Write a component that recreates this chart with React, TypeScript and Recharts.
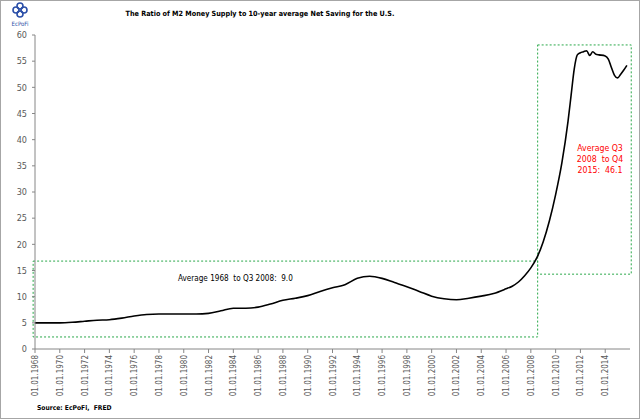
import { LineChart, Line, XAxis, YAxis, ReferenceArea } from "recharts";

const years = [
  1968, 1969, 1970, 1971, 1972, 1973, 1974, 1975, 1976, 1977, 1978, 1979,
  1980, 1981, 1982, 1983, 1984, 1985, 1986, 1987, 1988, 1989, 1990, 1991,
  1992, 1993, 1994, 1995, 1996, 1997, 1998, 1999, 2000, 2001, 2002, 2003,
  2004, 2005, 2006, 2006.5, 2007, 2007.5, 2008, 2008.5, 2009, 2009.5, 2010,
  2010.5, 2011, 2011.25, 2011.5, 2011.75, 2012, 2012.25, 2012.5, 2012.75,
  2013, 2013.25, 2013.5, 2014, 2014.25, 2014.5, 2014.75, 2015, 2015.25,
  2015.5, 2015.75,
];

const ratio = [
  5.0, 5.0, 5.0, 5.1, 5.3, 5.5, 5.6, 5.9, 6.3, 6.6, 6.7, 6.7,
  6.7, 6.7, 6.8, 7.3, 7.8, 7.8, 8.0, 8.6, 9.3, 9.7, 10.2, 11.0,
  11.7, 12.3, 13.5, 13.9, 13.5, 12.7, 11.9, 11.0, 10.1, 9.6, 9.4, 9.7,
  10.1, 10.6, 11.5, 12.0, 12.8, 14.0, 15.5, 17.5, 20.5, 24.5, 29.5,
  35.5, 43.5, 48.5, 53.5, 56.2, 56.6, 56.8, 57.0, 56.1,
  56.8, 56.3, 56.2, 56.0, 55.4, 53.8, 52.3, 51.8, 52.5,
  53.3, 54.2,
];

const xTicks = [
  1968, 1970, 1972, 1974, 1976, 1978, 1980, 1982, 1984, 1986, 1988, 1990,
  1992, 1994, 1996, 1998, 2000, 2002, 2004, 2006, 2008, 2010, 2012, 2014,
];
const yTicks = [0, 5, 10, 15, 20, 25, 30, 35, 40, 45, 50, 55, 60];

// dotted boxes marking the two averaging periods
const box1 = { x1: 1967.85, x2: 2008.55, y1: 2.3, y2: 16.8 };
const box2 = { x1: 2008.55, x2: 2016.1, y1: 14.3, y2: 58.1 };

const data = years.map((y, i) => ({ t: y, v: ratio[i] }));

const font = "'Liberation Sans Narrow', 'DejaVu Sans Condensed', 'Liberation Sans', sans-serif";
const axisGray = "#868686";
const green = "#2aa84a";

function DateTick(props: any) {
  const { x, y, payload } = props;
  return (
    <g transform={`translate(${x},${y})`}>
      <text
        x={0}
        y={0}
        dy={3}
        transform="rotate(-90)"
        textAnchor="end"
        fontSize={8}
        fontFamily={font}
        fill="#595959"
      >
        {`01.01.${payload.value}`}
      </text>
    </g>
  );
}

function Logo() {
  return (
    <svg width={24} height={28} style={{ position: "absolute", left: 8, top: 1 }}>
      <g fill="none" stroke="#2b4fa8" strokeWidth={1.6}>
        <circle cx={12} cy={5} r={3} />
        <circle cx={8} cy={9} r={3} />
        <circle cx={16} cy={9} r={3} />
        <circle cx={12} cy={13} r={3} />
      </g>
      <text x={12} y={25} textAnchor="middle" fontSize={6} fontFamily={font} fill="#2b4fa8">
        EcPoFi
      </text>
    </svg>
  );
}

export default function App() {
  return (
    <div style={{ position: "absolute", left: 0, top: 0, width: 640, height: 419, background: "#fff" }}>
      <LineChart width={640} height={419} data={data} margin={{ top: 35, right: 10, left: 0, bottom: 0 }}>
        <XAxis
          dataKey="t"
          type="number"
          domain={[1968, 2016]}
          ticks={xTicks}
          interval={0}
          height={70}
          tick={<DateTick />}
          tickSize={4}
          axisLine={{ stroke: axisGray }}
          tickLine={{ stroke: axisGray }}
        />
        <YAxis
          type="number"
          domain={[0, 60]}
          ticks={yTicks}
          interval={0}
          width={35}
          tickSize={3}
          tickMargin={5}
          axisLine={{ stroke: axisGray }}
          tickLine={{ stroke: axisGray }}
          tick={{ fontSize: 9, fontFamily: font, fill: "#595959" }}
        />
        <ReferenceArea
          {...box1}
          ifOverflow="visible"
          fill="none"
          stroke={green}
          strokeDasharray="2 2"
          strokeWidth={1}
        />
        <ReferenceArea
          {...box2}
          ifOverflow="visible"
          fill="none"
          stroke={green}
          strokeDasharray="2 2"
          strokeWidth={1}
        />
        <Line
          dataKey="v"
          type="monotone"
          stroke="#000"
          strokeWidth={1.6}
          dot={false}
          isAnimationActive={false}
        />
      </LineChart>

      <Logo />
      <div
        style={{
          position: "absolute",
          left: 0,
          width: 520,
          top: 9,
          textAlign: "center",
          fontFamily: font,
          fontWeight: "bold",
          fontSize: 7.2,
          color: "#000",
        }}
      >
        The Ratio of M2 Money Supply to 10-year average Net Saving for the U.S.
      </div>
      <div
        style={{
          position: "absolute",
          left: 178,
          top: 273,
          fontFamily: font,
          fontSize: 8.1,
          color: "#000",
          whiteSpace: "pre",
        }}
      >
        {"Average 1968  to Q3 2008:  9.0"}
      </div>
      <div
        style={{
          position: "absolute",
          left: 570,
          width: 60,
          top: 143,
          textAlign: "center",
          fontFamily: font,
          fontSize: 8.7,
          lineHeight: "11px",
          color: "#ff0000",
          whiteSpace: "pre",
        }}
      >
        {"Average Q3\n2008  to Q4\n2015:  46.1"}
      </div>
      <div
        style={{
          position: "absolute",
          left: 37,
          top: 404,
          fontFamily: font,
          fontWeight: "bold",
          fontSize: 6.7,
          color: "#000",
          whiteSpace: "pre",
        }}
      >
        {"Source: EcPoFi,  FRED"}
      </div>
      <div
        style={{
          position: "absolute",
          left: 0,
          top: 0,
          width: 640,
          height: 419,
          boxSizing: "border-box",
          border: "1px solid #a6a6a6",
          pointerEvents: "none",
        }}
      />
    </div>
  );
}
